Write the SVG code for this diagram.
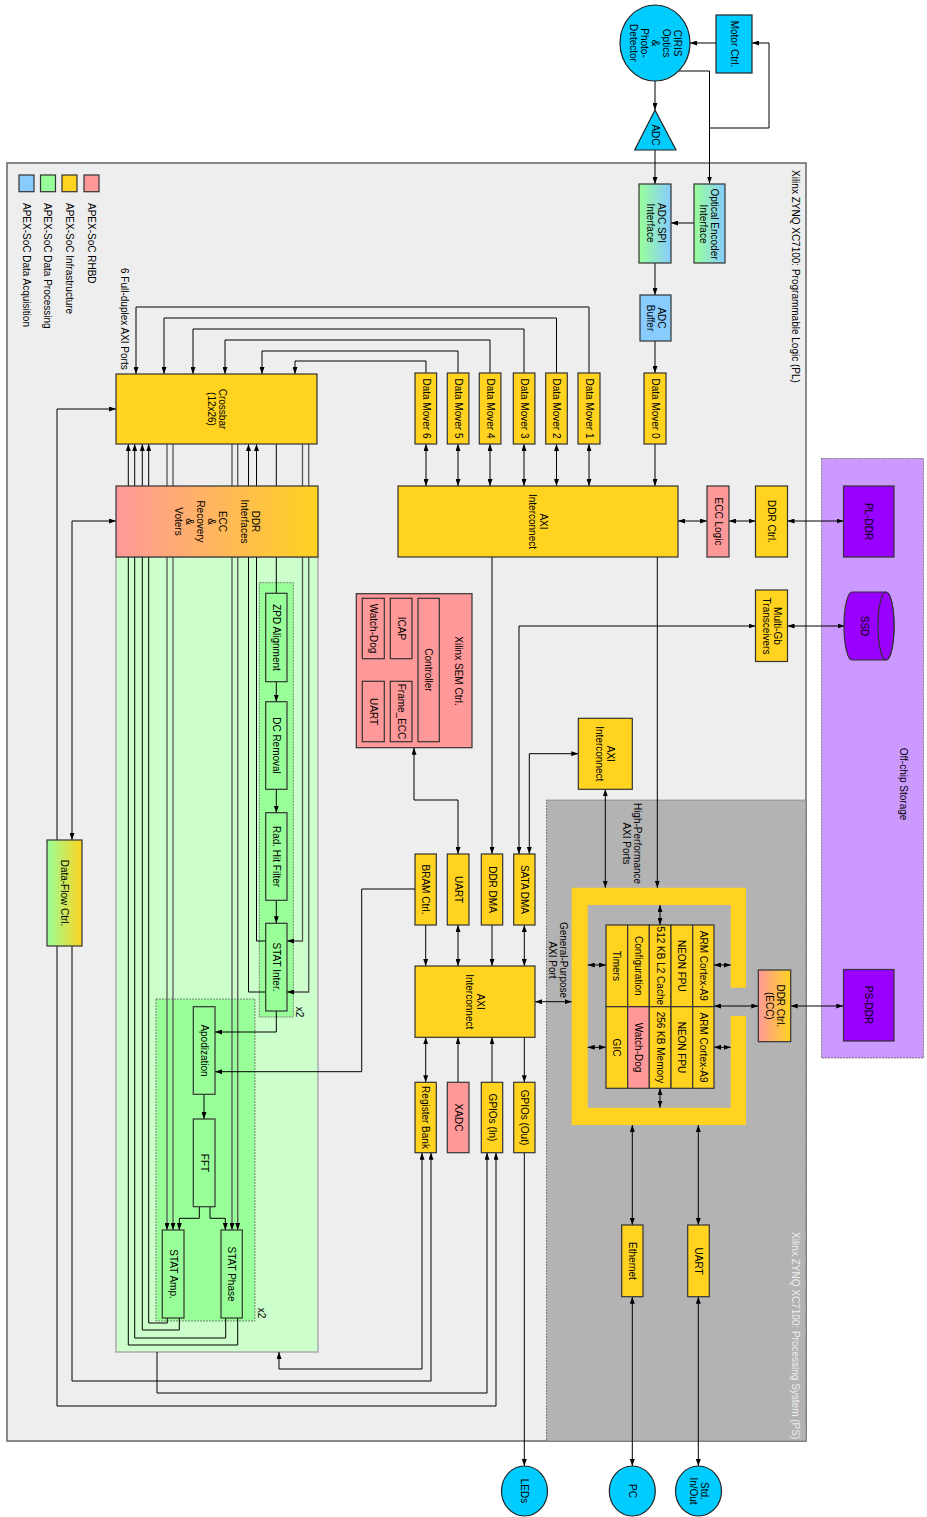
<svg xmlns="http://www.w3.org/2000/svg" width="927" height="1517" viewBox="0 0 927 1517">
<style>
.t{font-family:"Liberation Sans",Arial,sans-serif;font-size:10px;text-anchor:middle;fill:#000}
.ts{font-family:"Liberation Sans",Arial,sans-serif;font-size:10px;text-anchor:start;fill:#000}
.y{fill:#ffd320;stroke:#333;stroke-width:1.2}
.p{fill:#ff9999;stroke:#333;stroke-width:1.2}
.g{fill:#99ff99;stroke:#333;stroke-width:1.2}
.b{fill:#88ccff;stroke:#333;stroke-width:1.2}
.c{fill:#00ccff;stroke:#222;stroke-width:1.2}
.v{fill:#9900ff;stroke:#333;stroke-width:1.2}
.k{fill:none;stroke:#000;stroke-width:1}
.kg{fill:none;stroke:#555;stroke-width:1.3}
.ae{marker-end:url(#a)}
.ab{marker-start:url(#a);marker-end:url(#a)}
.dash{stroke:#666;stroke-width:0.8;stroke-dasharray:2 1}
</style>
<defs>
<marker id="a" viewBox="0 0 7 5" refX="7" refY="2.5" markerWidth="7" markerHeight="5" markerUnits="userSpaceOnUse" orient="auto-start-reverse"><path d="M0,0 L7,2.5 L0,5 z" fill="#000"/></marker>
<linearGradient id="gGB" x1="0" y1="0" x2="1" y2="0"><stop offset="0" stop-color="#99ff99"/><stop offset="1" stop-color="#88ccff"/></linearGradient>
<linearGradient id="gPY" x1="0" y1="0" x2="1" y2="0"><stop offset="0" stop-color="#ff9999"/><stop offset="1" stop-color="#ffd320"/></linearGradient>
<linearGradient id="gGY" x1="0" y1="0" x2="1" y2="0"><stop offset="0" stop-color="#99ff99"/><stop offset="1" stop-color="#ffd320"/></linearGradient>
</defs>
<rect width="927" height="1517" fill="#fff"/>
<!-- containers -->
<g id="pl-area">
<rect x="7" y="163" width="799" height="1278" fill="#eeeeee" stroke="#666" stroke-width="1.5"/>
<text class="ts" transform="translate(795,170) rotate(90)" y="3.5">Xilinx ZYNQ XC7100: Programmable Logic (PL)</text>
</g>
<g id="ps-area">
<rect x="546.5" y="800" width="259.5" height="641" fill="#b3b3b3" class="dash"/>
<text class="ts" transform="translate(795,1232) rotate(90)" y="3.5" style="fill:#eeeeee">Xilinx ZYNQ XC7100: Processing System (PS)</text>
</g>
<g id="offchip">
<rect x="821.5" y="458.5" width="102" height="599.5" fill="#cc99ff" class="dash"/>
<text class="t" transform="translate(903,784) rotate(90)" y="3.5">Off-chip Storage</text>
</g>
<g id="legend">
<rect x="19" y="175" width="15" height="16.7" class="b"/>
<rect x="40.5" y="175" width="15" height="16.7" class="g"/>
<rect x="62" y="175" width="15" height="16.7" class="y"/>
<rect x="84" y="175" width="15" height="16.7" class="p"/>
<text class="ts" transform="translate(91,203) rotate(90)" y="3.5">APEX-SoC RHBD</text>
<text class="ts" transform="translate(69.5,203) rotate(90)" y="3.5">APEX-SoC Infrastructure</text>
<text class="ts" transform="translate(47.8,203) rotate(90)" y="3.5">APEX-SoC Data Processing</text>
<text class="ts" transform="translate(26,203) rotate(90)" y="3.5">APEX-SoC Data Acquisition</text>
</g>
<g id="ports-label"><text class="ts" transform="translate(124,268) rotate(90)" y="3.5">6 Full-duplex AXI Ports</text></g>
<g id="processing-area">
<rect x="116" y="557" width="202" height="795" fill="#ccffcc" stroke="#aaa" stroke-width="1.5"/>
<rect x="259.3" y="582.7" width="34" height="434.3" fill="#99ff99" class="dash"/>
<text class="t" transform="translate(299,1012) rotate(90)" y="3.5">x2</text>
<rect x="156" y="999" width="99" height="322" fill="#99ff99" class="dash"/>
<text class="t" transform="translate(261,1313) rotate(90)" y="3.5">x2</text>
</g>
<g id="ps-frame">
<path d="M571.7,887.7 H746 V987.7 H730.7 V905 H587.7 V1107.7 H730.7 V1016 H746 V1125 H571.7 Z" fill="#ffd320"/>
<text class="t" transform="translate(631.5,843.5) rotate(90)"><tspan x="0" y="-2">High-Performance</tspan><tspan x="0" y="9">AXI Ports</tspan></text>
<text class="t" transform="translate(558,960) rotate(90)"><tspan x="0" y="-2">General-Purpose</tspan><tspan x="0" y="9">AXI Port</tspan></text>
</g>
<!-- connectors -->
<g id="connectors">
<path class="k ae" d="M716,43 H690"/>
<path class="k ae" d="M679,71 H709.5 V183.5"/>
<path class="k ae" d="M709.5,128 H769 V43 H752"/>
<path class="k ae" d="M655,81 V110"/>
<path class="k ae" d="M655,150 V184"/>
<path class="k ae" d="M694,223 H671"/>
<path class="k ae" d="M655,263 V295"/>
<path class="k ae" d="M655,341 V373"/>
<path class="k ae" d="M655,444 V486"/>
<path class="k ab" d="M589,444 V486"/>
<path class="k ab" d="M556.5,444 V486"/>
<path class="k ab" d="M524,444 V486"/>
<path class="k ab" d="M490,444 V486"/>
<path class="k ab" d="M458,444 V486"/>
<path class="k ab" d="M426,444 V486"/>
<path class="k ae" d="M589,373 V307 H136 V374"/>
<path class="k ae" d="M556.5,373 V318 H164 V374"/>
<path class="k ae" d="M524,373 V329 H193 V374"/>
<path class="k ae" d="M490,373 V340 H225 V374"/>
<path class="k ae" d="M458,373 V351 H262 V374"/>
<path class="k ae" d="M426,373 V361 H295 V374"/>
<path class="k ab" d="M678,521 H707"/>
<path class="k ab" d="M729,521 H755.5"/>
<path class="k ab" d="M787.5,521 H843.5"/>
<path class="k ab" d="M787.5,626 H844.5"/>
<path class="k ab" d="M519,854 V626 H755.5"/>
<path class="k ab" d="M529.3,854 V753.7 H578.3"/>
<path class="k ae" d="M492,557 V854"/>
<path class="k ae" d="M657.3,557 V887.7"/>
<path class="k ab" d="M605.3,789.3 V887.7"/>
<path class="k ab" d="M414,747.7 V800 H458 V854"/>
<path class="k ae" d="M425.7,925 V966"/>
<path class="k ab" d="M458,925 V966"/>
<path class="k ae" d="M492,925 V966"/>
<path class="k ab" d="M524.3,925 V966"/>
<path class="k ab" d="M425.7,1037.3 V1082.3"/>
<path class="k ae" d="M458,1082.3 V1037.3"/>
<path class="k ae" d="M492,1082.3 V1037.3"/>
<path class="k ae" d="M524.3,1037.3 V1082.3"/>
<path class="k ab" d="M535,1001.7 H571.7"/>
<path class="k ae" d="M524.3,1152.7 V1466"/>
<path class="k ab" d="M660,905 V925"/>
<path class="k ab" d="M660,1088.3 V1107.7"/>
<path class="k ab" d="M587.7,965 H606"/>
<path class="k ab" d="M587.7,1047.3 H606"/>
<path class="k ab" d="M714,965 H730.7"/>
<path class="k ab" d="M714,1047.3 H730.7"/>
<path class="k ab" d="M714,1006 H758.3"/>
<path class="k ab" d="M790.7,1006 H843.3"/>
<path class="k ab" d="M632.3,1125 V1225"/>
<path class="k ab" d="M698.3,1125 V1225"/>
<path class="k ab" d="M632.3,1296.7 V1466"/>
<path class="k ab" d="M698.3,1296.7 V1466"/>
<path class="k ae" d="M57,840 V409 H116"/>
<path class="k ab" d="M72,840 V521 H116"/>
<path class="k ae" d="M57,946 V1406 H496 V1152.7"/>
<path class="k ae" d="M72,946 V1381 H431 V1152.7"/>
<path class="k ab" d="M422,1152.7 V1369 H279 V1352"/>
<path class="k ae" d="M157,1352 V1393 H487 V1152.7"/>
<path class="k ae" d="M237.7,1318 V1345 H128.3 V444"/>
<path class="k ae" d="M225.7,1318 V1338 H134.7 V444"/>
<path class="k ae" d="M179.3,1318 V1330 H142.3 V444"/>
<path class="k ae" d="M167.3,1318 V1323 H148.7 V444"/>
<path class="kg ae" d="M167,444 V1230"/>
<path class="kg ae" d="M173,444 V1230"/>
<path class="kg ae" d="M232,444 V1230"/>
<path class="kg ae" d="M237.7,444 V1230"/>
<path class="k ae" d="M265.7,992 H248.5 V444"/>
<path class="k ae" d="M265.7,941 H256.5 V444"/>
<path class="k" d="M276.3,444 V593.3"/>
<path class="kg ae" d="M302.5,444 V941 H287"/>
<path class="kg ae" d="M308.7,444 V992 H287"/>
<path class="k ae" d="M276.3,681.7 V701.7"/>
<path class="k ae" d="M276.3,789.3 V812.7"/>
<path class="k ae" d="M276.3,900.3 V923.3"/>
<path class="k ae" d="M276.3,1011 V1032 H215"/>
<path class="k ae" d="M415,889 H361.7 V1071.7 H215"/>
<path class="k ae" d="M204,1094.3 V1119"/>
<path class="k ae" d="M199.3,1206.7 V1218.3 H179.3 V1230"/>
<path class="k ae" d="M210,1206.7 V1218.3 H225.3 V1230"/>
</g>
<!-- nodes -->
<g id="ciris"><ellipse cx="655" cy="43" rx="35" ry="38" class="c"/>
<text class="t" transform="translate(655,43) rotate(90)"><tspan x="0" y="-18.5">CIRIS</tspan><tspan x="0" y="-7.5">Optics</tspan><tspan x="0" y="3.5">&amp;</tspan><tspan x="0" y="14.5">Photo-</tspan><tspan x="0" y="25.5">Detector</tspan></text></g>
<g id="motor-ctrl"><rect x="716" y="15" width="36" height="58" class="c"/>
<text class="t" transform="translate(734,44) rotate(90)" y="3.5">Motor Ctrl.</text></g>
<g id="adc"><polygon points="655,110 634.7,150 676,150" class="c"/>
<text class="t" transform="translate(655.5,135) rotate(90)" y="3.5">ADC</text></g>
<g id="adc-spi"><rect x="639" y="184" width="32" height="79" fill="url(#gGB)" stroke="#333" stroke-width="1.2"/>
<text class="t" transform="translate(656,223) rotate(90)"><tspan x="0" y="-2">ADC SPI</tspan><tspan x="0" y="9">Interface</tspan></text></g>
<g id="optical-encoder"><rect x="694" y="184" width="31" height="79" fill="url(#gGB)" stroke="#333" stroke-width="1.2"/>
<text class="t" transform="translate(708.5,224) rotate(90)"><tspan x="0" y="-2">Optical Encoder</tspan><tspan x="0" y="9">Interface</tspan></text></g>
<g id="adc-buffer"><rect x="640" y="295" width="31" height="46" class="b"/>
<text class="t" transform="translate(655.5,318) rotate(90)"><tspan x="0" y="-2">ADC</tspan><tspan x="0" y="9">Buffer</tspan></text></g>
<g id="dm0"><rect x="644" y="373" width="22" height="71" class="y"/><text class="t" transform="translate(655,408.5) rotate(90)" y="3.5">Data Mover 0</text></g>
<g id="dm1"><rect x="578" y="373" width="22" height="71" class="y"/><text class="t" transform="translate(589,408.5) rotate(90)" y="3.5">Data Mover 1</text></g>
<g id="dm2"><rect x="545.7" y="373" width="21.6" height="71" class="y"/><text class="t" transform="translate(556.5,408.5) rotate(90)" y="3.5">Data Mover 2</text></g>
<g id="dm3"><rect x="513.3" y="373" width="21.6" height="71" class="y"/><text class="t" transform="translate(524,408.5) rotate(90)" y="3.5">Data Mover 3</text></g>
<g id="dm4"><rect x="479.3" y="373" width="21.6" height="71" class="y"/><text class="t" transform="translate(490,408.5) rotate(90)" y="3.5">Data Mover 4</text></g>
<g id="dm5"><rect x="447.3" y="373" width="21.6" height="71" class="y"/><text class="t" transform="translate(458,408.5) rotate(90)" y="3.5">Data Mover 5</text></g>
<g id="dm6"><rect x="415" y="373" width="21.6" height="71" class="y"/><text class="t" transform="translate(426,408.5) rotate(90)" y="3.5">Data Mover 6</text></g>
<g id="axi-upper"><rect x="398" y="486" width="280" height="71" class="y"/>
<text class="t" transform="translate(537.5,521.5) rotate(90)"><tspan x="0" y="-2">AXI</tspan><tspan x="0" y="9">Interconnect</tspan></text></g>
<g id="ecc-logic"><rect x="707" y="486" width="22" height="71" class="p"/><text class="t" transform="translate(718,521.5) rotate(90)" y="3.5">ECC Logic</text></g>
<g id="ddr-ctrl-pl"><rect x="755.5" y="486" width="32" height="71" class="y"/><text class="t" transform="translate(771.5,521.5) rotate(90)" y="3.5">DDR Ctrl.</text></g>
<g id="pl-ddr"><rect x="843.5" y="486" width="50.5" height="71" class="v"/><text class="t" transform="translate(868.7,521.5) rotate(90)" y="3.5">PL-DDR</text></g>
<g id="multigb"><rect x="755.5" y="590" width="32" height="71.5" class="y"/>
<text class="t" transform="translate(771.5,626) rotate(90)"><tspan x="0" y="-2">Multi-Gb</tspan><tspan x="0" y="9">Transceivers</tspan></text></g>
<g id="ssd"><path d="M852,592 L886,592 A8,34 0 0 1 886,660 L852,660 A8,34 0 0 1 852,592 Z" class="v"/><ellipse cx="886" cy="626" rx="8" ry="34" class="v"/>
<text class="t" transform="translate(864,626) rotate(90)" y="3.5">SSD</text></g>
<g id="ps-ddr"><rect x="843.5" y="969.5" width="50.5" height="71.5" class="v"/><text class="t" transform="translate(868.7,1005) rotate(90)" y="3.5">PS-DDR</text></g>
<g id="crossbar"><rect x="116" y="374" width="201" height="70" class="y"/>
<text class="t" transform="translate(216.5,409) rotate(90)"><tspan x="0" y="-2">Crossbar</tspan><tspan x="0" y="9">(12x26)</tspan></text></g>
<g id="ddr-interfaces"><rect x="116" y="486" width="202" height="71" fill="url(#gPY)" stroke="#333" stroke-width="1.2"/>
<text class="t" transform="translate(216.5,521.5) rotate(90)"><tspan x="0" y="-35">DDR</tspan><tspan x="0" y="-24">Interfaces</tspan><tspan x="0" y="-2">ECC</tspan><tspan x="0" y="9">&amp;</tspan><tspan x="0" y="20">Recovery</tspan><tspan x="0" y="31">&amp;</tspan><tspan x="0" y="42">Voters</tspan></text></g>
<g id="sem-ctrl"><rect x="356.3" y="593.7" width="115.7" height="154" class="p"/>
<text class="t" transform="translate(458,671) rotate(90)" y="3.5">Xilinx SEM Ctrl.</text>
<rect x="418" y="598.3" width="21.3" height="143.4" class="p"/><text class="t" transform="translate(428.7,670) rotate(90)" y="3.5">Controller</text>
<rect x="390.3" y="598.3" width="21.7" height="60.4" class="p"/><text class="t" transform="translate(401,628.5) rotate(90)" y="3.5">ICAP</text>
<rect x="390.3" y="681.3" width="21.7" height="60.4" class="p"/><text class="t" transform="translate(401,711.5) rotate(90)" y="3.5">Frame_ECC</text>
<rect x="362.3" y="598.3" width="22" height="60.4" class="p"/><text class="t" transform="translate(373.3,628.5) rotate(90)" y="3.5">Watch-Dog</text>
<rect x="362.3" y="681.3" width="22" height="60.4" class="p"/><text class="t" transform="translate(373.3,711.5) rotate(90)" y="3.5">UART</text></g>
<g id="axi-small"><rect x="578.3" y="718.3" width="54" height="71" class="y"/>
<text class="t" transform="translate(605.3,753.8) rotate(90)"><tspan x="0" y="-2">AXI</tspan><tspan x="0" y="9">Interconnect</tspan></text></g>
<g id="bram-ctrl"><rect x="415" y="854" width="21.3" height="71" class="y"/><text class="t" transform="translate(425.7,889.5) rotate(90)" y="3.5">BRAM Ctrl.</text></g>
<g id="uart-pl"><rect x="447.3" y="854" width="21.7" height="71" class="y"/><text class="t" transform="translate(458,889.5) rotate(90)" y="3.5">UART</text></g>
<g id="ddr-dma"><rect x="481.3" y="854" width="21.4" height="71" class="y"/><text class="t" transform="translate(492,889.5) rotate(90)" y="3.5">DDR DMA</text></g>
<g id="sata-dma"><rect x="513.7" y="854" width="21.3" height="71" class="y"/><text class="t" transform="translate(524.3,889.5) rotate(90)" y="3.5">SATA DMA</text></g>
<g id="axi-lower"><rect x="415" y="966" width="120" height="71.3" class="y"/>
<text class="t" transform="translate(475,1001.7) rotate(90)"><tspan x="0" y="-2">AXI</tspan><tspan x="0" y="9">Interconnect</tspan></text></g>
<g id="register-bank"><rect x="415" y="1082.3" width="21.3" height="70.4" class="y"/><text class="t" transform="translate(425.7,1117.5) rotate(90)" y="3.5">Register Bank</text></g>
<g id="xadc"><rect x="447.3" y="1082.3" width="21.7" height="70.4" class="p"/><text class="t" transform="translate(458,1117.5) rotate(90)" y="3.5">XADC</text></g>
<g id="gpio-in"><rect x="481.3" y="1082.3" width="21.4" height="70.4" class="y"/><text class="t" transform="translate(492,1117.5) rotate(90)" y="3.5">GPIOs (In)</text></g>
<g id="gpio-out"><rect x="513.7" y="1082.3" width="21.3" height="70.4" class="y"/><text class="t" transform="translate(524.3,1117.5) rotate(90)" y="3.5">GPIOs (Out)</text></g>
<g id="dataflow-ctrl"><rect x="47" y="840" width="35" height="106" fill="url(#gGY)" stroke="#333" stroke-width="1.2"/><text class="t" transform="translate(64.5,893) rotate(90)" y="3.5">Data-Flow Ctrl.</text></g>
<g id="zpd"><rect x="265.7" y="593.3" width="21.3" height="88.4" class="g"/><text class="t" transform="translate(276.3,637.5) rotate(90)" y="3.5">ZPD Alignment</text></g>
<g id="dc-removal"><rect x="265.7" y="701.7" width="21.3" height="87.6" class="g"/><text class="t" transform="translate(276.3,745.5) rotate(90)" y="3.5">DC Removal</text></g>
<g id="rad-hit"><rect x="265.7" y="812.7" width="21.3" height="87.6" class="g"/><text class="t" transform="translate(276.3,856.5) rotate(90)" y="3.5">Rad. Hit Filter</text></g>
<g id="stat-inter"><rect x="265.7" y="923.3" width="21.3" height="87.7" class="g"/><text class="t" transform="translate(276.3,967) rotate(90)" y="3.5">STAT Inter.</text></g>
<g id="apodization"><rect x="193.3" y="1006.7" width="21.7" height="87.6" class="g"/><text class="t" transform="translate(204,1050.5) rotate(90)" y="3.5">Apodization</text></g>
<g id="fft"><rect x="193.3" y="1119" width="21.7" height="87.7" class="g"/><text class="t" transform="translate(204,1163) rotate(90)" y="3.5">FFT</text></g>
<g id="stat-amp"><rect x="162.3" y="1230" width="21.7" height="88" class="g"/><text class="t" transform="translate(173,1274) rotate(90)" y="3.5">STAT Amp.</text></g>
<g id="stat-phase"><rect x="221" y="1230" width="21.3" height="88" class="g"/><text class="t" transform="translate(231.5,1274) rotate(90)" y="3.5">STAT Phase</text></g>
<g id="ps-core">
<rect x="606" y="925" width="21.7" height="81.7" class="y"/><text class="t" transform="translate(616.8,965.8) rotate(90)" y="3.5">Timers</text>
<rect x="606" y="1006.7" width="21.7" height="81.6" class="y"/><text class="t" transform="translate(616.8,1047.5) rotate(90)" y="3.5">GIC</text>
<rect x="627.7" y="925" width="21.6" height="81.7" class="y"/><text class="t" transform="translate(638.5,965.8) rotate(90)" y="3.5">Configuration</text>
<rect x="627.7" y="1006.7" width="21.6" height="81.6" class="p"/><text class="t" transform="translate(638.5,1047.5) rotate(90)" y="3.5">Watch-Dog</text>
<rect x="649.3" y="925" width="21.7" height="81.7" class="y"/><text class="t" transform="translate(660.2,965.8) rotate(90)" y="3.5">512 KB L2 Cache</text>
<rect x="649.3" y="1006.7" width="21.7" height="81.6" class="y"/><text class="t" transform="translate(660.2,1047.5) rotate(90)" y="3.5">256 KB Memory</text>
<rect x="671" y="925" width="21.7" height="81.7" class="y"/><text class="t" transform="translate(681.8,965.8) rotate(90)" y="3.5">NEON FPU</text>
<rect x="671" y="1006.7" width="21.7" height="81.6" class="y"/><text class="t" transform="translate(681.8,1047.5) rotate(90)" y="3.5">NEON FPU</text>
<rect x="692.7" y="925" width="21.3" height="81.7" class="y"/><text class="t" transform="translate(703.3,965.8) rotate(90)" y="3.5">ARM Cortex-A9</text>
<rect x="692.7" y="1006.7" width="21.3" height="81.6" class="y"/><text class="t" transform="translate(703.3,1047.5) rotate(90)" y="3.5">ARM Cortex-A9</text>
</g>
<g id="ddr-ctrl-ps"><rect x="758.3" y="970" width="32.4" height="71.7" fill="url(#gPY)" stroke="#333" stroke-width="1.2"/>
<text class="t" transform="translate(774.5,1005.8) rotate(90)"><tspan x="0" y="-2">DDR Ctrl.</tspan><tspan x="0" y="9">(ECC)</tspan></text></g>
<g id="ethernet"><rect x="621.7" y="1225" width="21.3" height="71.7" class="y"/><text class="t" transform="translate(632.3,1261) rotate(90)" y="3.5">Ethernet</text></g>
<g id="uart-ps"><rect x="687.7" y="1225" width="21.6" height="71.7" class="y"/><text class="t" transform="translate(698.5,1261) rotate(90)" y="3.5">UART</text></g>
<g id="leds"><ellipse cx="524.5" cy="1491" rx="23" ry="25" class="c"/><text class="t" transform="translate(524.5,1491) rotate(90)" y="3.5">LEDs</text></g>
<g id="pc"><ellipse cx="632.3" cy="1491" rx="23" ry="25" class="c"/><text class="t" transform="translate(632.3,1491) rotate(90)" y="3.5">PC</text></g>
<g id="std-io"><ellipse cx="698.5" cy="1491" rx="23" ry="25" class="c"/><text class="t" transform="translate(698.5,1491) rotate(90)"><tspan x="0" y="-2">Std.</tspan><tspan x="0" y="9">In/Out</tspan></text></g>
</svg>
